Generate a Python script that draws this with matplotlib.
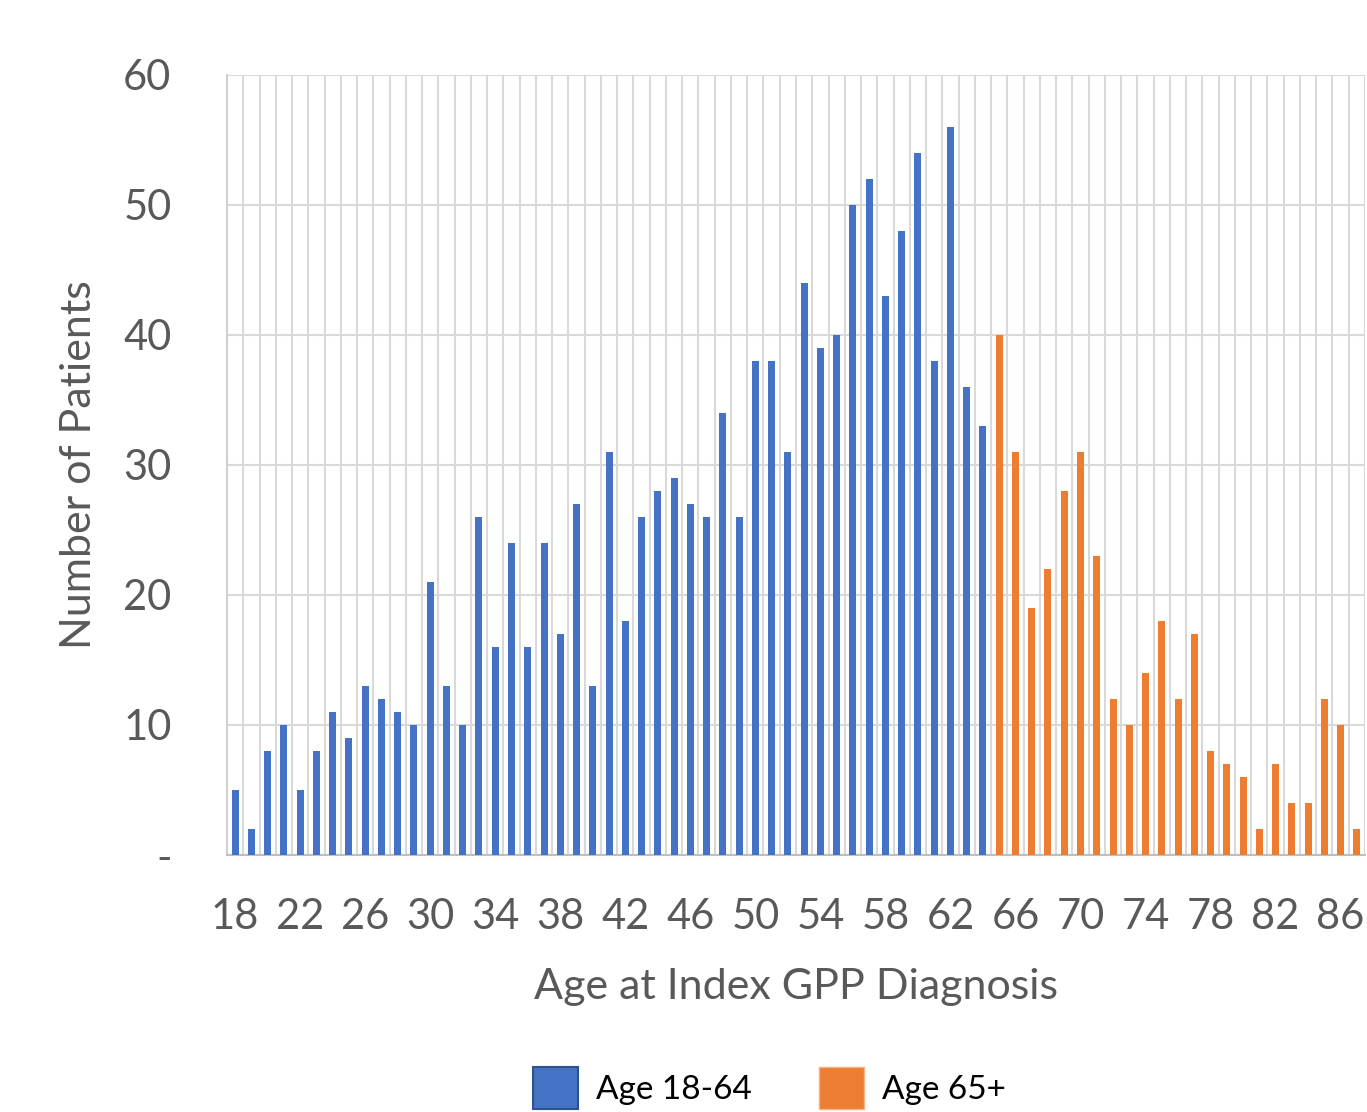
import numpy as np
import matplotlib
matplotlib.use("Agg")
import matplotlib.pyplot as plt
from matplotlib.patches import Patch

# ages at index diagnosis and patient counts
ages = list(range(18, 88))
counts = [5, 2, 8, 10, 5, 8, 11, 9, 13, 12, 11, 10, 21, 13, 10, 26, 16, 24, 16, 24,
          17, 27, 13, 31, 18, 26, 28, 29, 27, 26, 34, 26, 38, 38, 31, 44, 39, 40, 50, 52,
          43, 48, 54, 38, 56, 36, 33, 40, 31, 19, 22, 28, 31, 23, 12, 10, 14, 18, 12, 17,
          8, 7, 6, 2, 7, 4, 4, 12, 10, 2]
split_age = 65
series_labels = ["Age 18-64", "Age 65+"]
yticks = [0, 10, 20, 30, 40, 50, 60]
ytick_labels = ["-", "10", "20", "30", "40", "50", "60"]

blue = "#4472C4"
orange = "#ED7D31"
grey_txt = "#595959"
grid_c = "#D9D9D9"

plt.rcParams['font.family'] = ['Lato', 'DejaVu Sans']

fig = plt.figure(figsize=(13.67, 11.12), dpi=100)
ax = fig.add_axes([227/1367, 1-855/1112, 1138/1367, (855-75)/1112])

x = np.arange(len(ages))
cols = [blue if a < split_age else orange for a in ages]
ax.bar(x, counts, width=0.43, color=cols, zorder=3)

ax.set_xlim(-0.5, len(ages) - 0.5)
ax.set_ylim(0, 60)

# category boundary gridlines
ax.set_xticks(np.arange(-0.5, len(ages), 1), minor=True)
ax.set_xticks(x[::4])
ax.set_xticklabels([str(a) for a in ages[::4]])
ax.set_yticks(yticks)
ax.set_yticklabels(ytick_labels)
ax.grid(which="minor", axis="x", color=grid_c, linewidth=1.5, zorder=0)
ax.grid(which="major", axis="y", color=grid_c, linewidth=1.5, zorder=0)

ax.tick_params(which="both", length=0)
ax.tick_params(axis="x", labelsize=30, colors=grey_txt, pad=31)
ax.tick_params(axis="y", labelsize=30, colors=grey_txt, pad=40)

for s in ["top", "right"]:
    ax.spines[s].set_visible(False)
ax.spines["left"].set_color("#D0D0D0")
ax.spines["left"].set_linewidth(1.5)
ax.spines["bottom"].set_color("#BFBFBF")
ax.spines["bottom"].set_linewidth(1.5)

ax.set_xlabel("Age at Index GPP Diagnosis", fontsize=31, color=grey_txt, labelpad=23)
ax.set_ylabel("Number of Patients", fontsize=31, color=grey_txt, labelpad=18)

handles = [Patch(facecolor=blue, edgecolor="#2F528F", linewidth=1.5),
           Patch(facecolor=orange, edgecolor="#F4B183", linewidth=1.0)]
fig.legend(handles, series_labels, loc="center", bbox_to_anchor=(0.563, 1-1088/1112),
           ncol=2, frameon=False, fontsize=24, handlelength=1.35, handleheight=1.6,
           columnspacing=2.0, handletextpad=0.55)

fig.savefig("out.png", dpi=100)
